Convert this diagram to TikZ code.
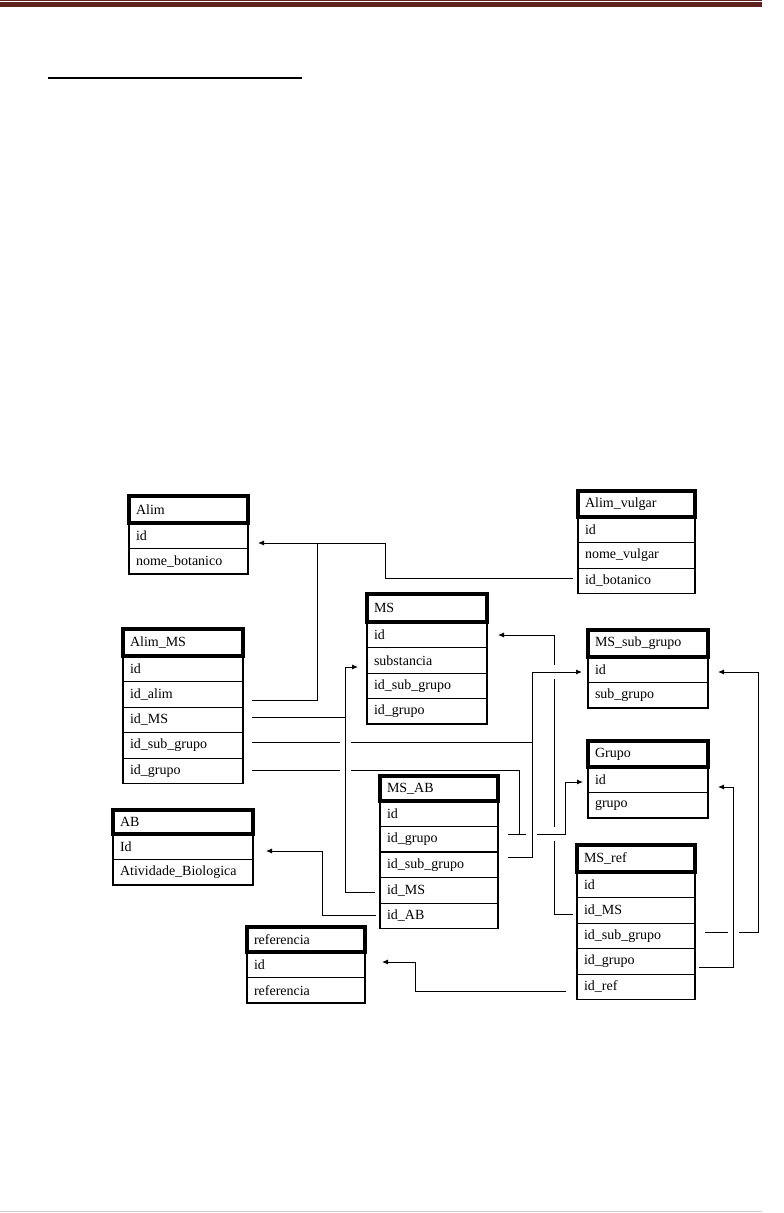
\documentclass[tikz,border=0pt]{standalone}
\usepackage{fontspec}
\setmainfont{Liberation Serif}
\usetikzlibrary{arrows.meta}
\definecolor{barred}{HTML}{5F2220}
\tikzset{
  every node/.style={font=\fontsize{14}{16}\selectfont},
  rowbox/.style={draw, line width=0.8pt, anchor=north west, inner xsep=7pt, inner ysep=0pt,
    outer sep=0pt, minimum height=25.5pt, align=left},
  hdrbox/.style={draw, line width=3.5pt, anchor=north west, inner xsep=7pt, inner ysep=0pt,
    outer sep=0pt, align=left},
  ln/.style={line width=0.9pt},
  fk/.style={line width=0.9pt, -{Latex[length=6pt,width=5pt]}}
}
\newcommand\ertable[8]{%
  \pgfmathsetmacro\ertw{#4-14}%
  \foreach [count=\i] \rkey/\rtxt in {#8} {%
    \node[rowbox, text width=\ertw pt] (#1-\rkey) at (#2,{#3+#5+25.5*(\i-1)}) {\rtxt};
  }%
  \draw[line width=1.8pt] (#2,{#3+#5}) rectangle ++(#4,{25.5*#7});
  \node[hdrbox, text width=\ertw pt, minimum height=#5 pt] (#1) at (#2,#3) {#6};
}
\begin{document}
\begin{tikzpicture}[x=1pt,y=-1pt]
\useasboundingbox (0,0) rectangle (784,1213);
% page decorations
\draw[barred, line width=0.8pt] (0,0.6) -- (762,0.6);
\fill[barred] (0,2.3) rectangle (762,7.2);
\draw[line width=2.8pt] (48,78) -- (302,78);
\draw[black!18, line width=1.2pt] (0,1211.6) -- (762,1211.6);

% tables
\ertable{alim}{129}{496}{119}{27}{Alim}{2}{id/id, nome/nome\_botanico}
\ertable{avul}{578}{491}{117}{26}{Alim\_vulgar}{3}{id/id, nome/nome\_vulgar, idbot/id\_botanico}
\ertable{ms}{367}{594}{120}{28}{MS}{4}{id/id, subst/substancia, idsub/id\_sub\_grupo, idgrupo/id\_grupo}
\ertable{ams}{123}{629}{120}{27}{Alim\_MS}{5}{id/id, idalim/id\_alim, idMS/id\_MS, idsub/id\_sub\_grupo, idgrupo/id\_grupo}
\ertable{msg}{588}{630}{120}{27}{MS\_sub\_grupo}{2}{id/id, sub/sub\_grupo}
\ertable{grp}{588}{741}{120}{26}{Grupo}{2}{id/id, grupo/grupo}
\ertable{msab}{380}{776}{118}{25}{MS\_AB}{5}{id/id, idgrupo/id\_grupo, idsub/id\_sub\_grupo, idMS/id\_MS, idAB/id\_AB}
\ertable{ab}{113}{810}{140}{24}{AB}{2}{id/Id, ativ/Atividade\_Biologica}
\ertable{mref}{577}{845}{118}{27}{MS\_ref}{5}{id/id, idMS/id\_MS, idsub/id\_sub\_grupo, idgrupo/id\_grupo, idref/id\_ref}
\ertable{ref}{247}{927}{118}{25}{referencia}{2}{id/id, ref/referencia}
\draw[line width=1.8pt] (msab-idsub.north west) -- (msab-idsub.north east);

% junction coordinates
\coordinate (vA) at (317,543);
\coordinate (vB) at (385,543);
\coordinate (vC) at (345,667);
\coordinate (vD) at (532,672);
\coordinate (vE) at (565,782);
\coordinate (vF) at (519,834);
\coordinate (vG) at (554,635);
\coordinate (vH) at (758,672);
\coordinate (vI) at (733,787);
\coordinate (vJ) at (415,962);
\coordinate (vK) at (322,851);

% C1, C2: Alim
\draw[fk] ([xshift=9pt,yshift=-5.75pt]ams-idalim.east) -| (vA) -- ([xshift=10pt,yshift=-7.25pt]alim-id.east);
\draw[ln] ([xshift=-5pt,yshift=2.75pt]avul-idbot.west) -| (vB) -- (vA);

% C3: substancia
\draw[fk] ([xshift=-5pt,yshift=-1.75pt]msab-idMS.west) -| (vC) -- ([xshift=-9pt,yshift=-6.75pt]ms-subst.west);
\coordinate (s3b) at ([xshift=9pt,yshift=2.75pt]ams-idMS.east);
\draw[ln] (s3b) -- (s3b -| vC);

% C4: MS_sub_grupo
\coordinate (s4) at ([xshift=10pt,yshift=7.75pt]msab-idsub.east);
\draw[fk] (s4) -| (vD) -- ([xshift=-6pt,yshift=-2.25pt]msg-id.west);
\coordinate (s4b) at ([xshift=9pt,yshift=3.25pt]ams-idsub.east);
\draw[ln] (s4b) -- ([xshift=-5pt]s4b -| vC);
\draw[ln] ([xshift=6pt]s4b -| vC) -- (s4b -| vD);

% C5: Grupo
\coordinate (s5) at ([xshift=10pt,yshift=5.25pt]msab-idgrupo.east);
\draw[ln] (s5) -- ([xshift=-6pt]s5 -| vD);
\draw[fk] ([xshift=5pt]s5 -| vD) -| (vE) -- ([xshift=-5pt,yshift=-2.25pt]grp-id.west);
\coordinate (s5b) at ([xshift=9pt,yshift=0.75pt]ams-idgrupo.east);
\draw[ln] (s5b) -- ([xshift=-5pt]s5b -| vC);
\draw[ln] ([xshift=6pt]s5b -| vC) -| (vF);

% C6: MS_ref.id_MS -> MS.id
\coordinate (s6) at ([xshift=-4pt,yshift=-3.75pt]mref-idMS.west);
\draw[ln] (s6) -| ([yshift=-7pt]vG |- s5);
\draw[ln] ([yshift=7pt]vG |- s5) -- ([yshift=-7pt]vG |- vD);
\draw[fk] ([yshift=7pt]vG |- vD) -- (vG) -- ([xshift=11pt,yshift=-0.25pt]ms-id.east);

% C7: MS_ref.id_sub_grupo -> MS_sub_grupo.id
\coordinate (s7) at ([xshift=10pt,yshift=3.75pt]mref-idsub.east);
\draw[ln] (s7) -- ([xshift=-5pt]s7 -| vI);
\draw[fk] ([xshift=6pt]s7 -| vI) -| (vH) -- ([xshift=10pt,yshift=-2.25pt]msg-id.east);

% C8: MS_ref.id_grupo -> Grupo.id
\draw[fk] ([xshift=4pt,yshift=-5.75pt]mref-idgrupo.east) -| (vI) -- ([xshift=10pt,yshift=-7.25pt]grp-id.east);

% C9: MS_ref.id_ref -> referencia.id
\draw[fk] ([xshift=-11pt,yshift=-4.25pt]mref-idref.west) -| (vJ) -- ([xshift=17pt,yshift=2.75pt]ref-id.east);

% C10: MS_AB.id_AB -> AB.Id
\draw[fk] ([xshift=-4pt,yshift=0.75pt]msab-idAB.west) -| (vK) -- ([xshift=13pt,yshift=-4.25pt]ab-id.east);
\end{tikzpicture}
\end{document}
